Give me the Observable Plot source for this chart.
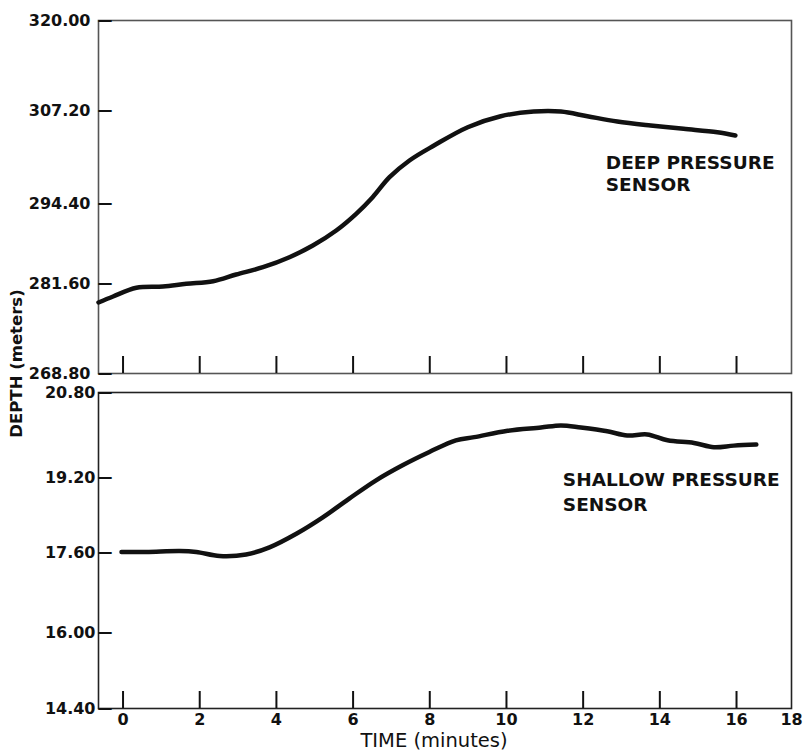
<!DOCTYPE html>
<html>
<head>
<meta charset="utf-8">
<script src="https://cdn.jsdelivr.net/npm/d3@7"></script>
<script src="https://cdn.jsdelivr.net/npm/@observablehq/plot@0.6"></script>
<style>
  html, body { margin: 0; padding: 0; background: #fff; }
  #chart { position: relative; width: 805px; height: 752px; }
  #chart svg { position: absolute; left: 0; top: 0; }
</style>
</head>
<body>
<div id="chart"></div>
<script>
// Time axis (minutes)
const timeTicks = [0, 2, 4, 6, 8, 10, 12, 14, 16];
const timeLabels = [0, 2, 4, 6, 8, 10, 12, 14, 16, 18];

// Deep pressure sensor: depth (meters) over time
const deepTime  = [-0.64, -0.26, 0.35, 1.04, 1.65, 2.35, 2.95, 3.65, 4.34, 4.95, 5.56, 6.08, 6.51, 6.95, 7.47, 8.11, 8.99, 9.85, 10.71, 11.42, 12.11, 12.89, 13.76, 14.62, 15.5, 15.97];
const deepDepth = [278.9, 279.75, 280.99, 281.17, 281.56, 281.97, 283.04, 284.21, 285.81, 287.68, 290.08, 292.75, 295.27, 298.02, 300.32, 302.38, 304.9, 306.41, 307.06, 307.06, 306.41, 305.69, 305.14, 304.68, 304.21, 303.76];
const deepTicks = [268.8, 281.6, 294.4, 307.2, 320.0];

// Shallow pressure sensor: depth (meters) over time
const shallowTime  = [-0.04, 0.61, 1.48, 1.91, 2.52, 3.21, 3.82, 4.52, 5.21, 5.9, 6.6, 7.29, 7.99, 8.68, 9.16, 10.03, 10.9, 11.42, 11.94, 12.63, 13.15, 13.67, 14.2, 14.89, 15.41, 15.93, 16.72];
const shallowDepth = [17.61, 17.61, 17.63, 17.61, 17.53, 17.56, 17.71, 18.0, 18.35, 18.75, 19.14, 19.43, 19.68, 19.9, 19.96, 20.08, 20.14, 20.18, 20.14, 20.07, 19.99, 20.01, 19.9, 19.85, 19.77, 19.8, 19.82];
const shallowTicks = [14.4, 16.0, 17.6, 19.2, 20.8];

// Layout
const W = 805, H = 752;
const ML = 98, MR = 14;
const FONT = "DejaVu Sans";
const INK = "#111";

// Time axis extent
const T_MIN = -0.64, T_MAX = 18;

// The axes were ruled by hand, so tick spacing is uneven: values are mapped
// piecewise through the drawn tick positions before the linear scales.
const tx = d3.scaleLinear().domain([T_MIN, 16, T_MAX]).range([T_MIN, 16, 17.434]);
const xScale = {domain: [tx(T_MIN), tx(T_MAX)], axis: null};

function panel({time, depth, ticks, tickSteps, top, bottom, tickPad, frameStroke, label, labelAt, labelLineHeight, extra = () => []}) {
  const plotH = bottom - top;
  const ty = d3.scaleLinear().domain(ticks).range(tickSteps);
  const tickRows = ticks.map(v => ({v, y: ty(v)}));
  return Plot.plot({
    width: W,
    height: H,
    marginLeft: ML,
    marginRight: MR,
    marginTop: top,
    marginBottom: H - bottom,
    style: {background: "transparent", overflow: "visible"},
    x: xScale,
    y: {domain: [0, plotH], axis: null},
    marks: [
      Plot.frame({stroke: frameStroke, strokeWidth: 1.6}),
      // inward depth ticks: a short dash just inside the left edge
      Plot.text(tickRows, {
        y: "y", text: () => "\u2014", frameAnchor: "left", textAnchor: "start",
        dx: -1, fontSize: 15, fontWeight: "bold", fontFamily: FONT, fill: INK
      }),
      // inward time ticks
      Plot.tickX(timeTicks, {x: d => tx(d), stroke: INK, strokeWidth: 2, insetTop: plotH - 17}),
      Plot.text(tickRows, {
        y: "y", text: d => d.v.toFixed(2), frameAnchor: "left", textAnchor: "end",
        dx: -tickPad, fontSize: 16, fontWeight: "bold", fontFamily: FONT, fill: INK
      }),
      Plot.line(time, {
        x: time.map(tx), y: depth.map(ty),
        stroke: INK, strokeWidth: 4.5, curve: "catmull-rom", strokeLinecap: "round"
      }),
      Plot.text([label], {
        x: tx(labelAt[0]), y: ty(labelAt[1]), text: d => d, textAnchor: "start", lineAnchor: "top",
        lineHeight: labelLineHeight, fontSize: 18.5, fontWeight: "bold", fontFamily: FONT, fill: INK
      }),
      ...extra(ty)
    ]
  });
}

const deepPanel = panel({
  time: deepTime, depth: deepDepth, ticks: deepTicks, tickSteps: [0, 90, 170, 263, 353],
  top: 20, bottom: 373, tickPad: 8,
  frameStroke: "#555",
  label: "DEEP PRESSURE\nSENSOR", labelAt: [12.59, 301.3], labelLineHeight: 1.2,
  extra: () => [
    Plot.text(["DEPTH (meters)"], {
      text: d => d, frameAnchor: "bottom-left", rotate: -90, textAnchor: "middle",
      dx: -77, dy: -10, fontSize: 16.5, fontWeight: "bold", fontFamily: FONT, fill: INK
    })
  ]
});

const shallowPanel = panel({
  time: shallowTime, depth: shallowDepth, ticks: shallowTicks, tickSteps: [0, 76, 156, 231, 316],
  top: 392, bottom: 708, tickPad: 3,
  frameStroke: "#222",
  label: "SHALLOW PRESSURE\nSENSOR", labelAt: [11.47, 19.37], labelLineHeight: 1.35,
  extra: () => [
    Plot.text(timeLabels, {
      x: d => tx(d), text: d => String(d), frameAnchor: "bottom", dy: 16,
      fontSize: 16, fontWeight: "bold", fontFamily: FONT, fill: INK
    }),
    Plot.text(["TIME (minutes)"], {
      text: d => d, frameAnchor: "bottom", dx: -11, dy: 38,
      fontSize: 19.5, fontFamily: FONT, fill: INK
    })
  ]
});

const chart = document.getElementById("chart");
chart.append(deepPanel, shallowPanel);
</script>
</body>
</html>
